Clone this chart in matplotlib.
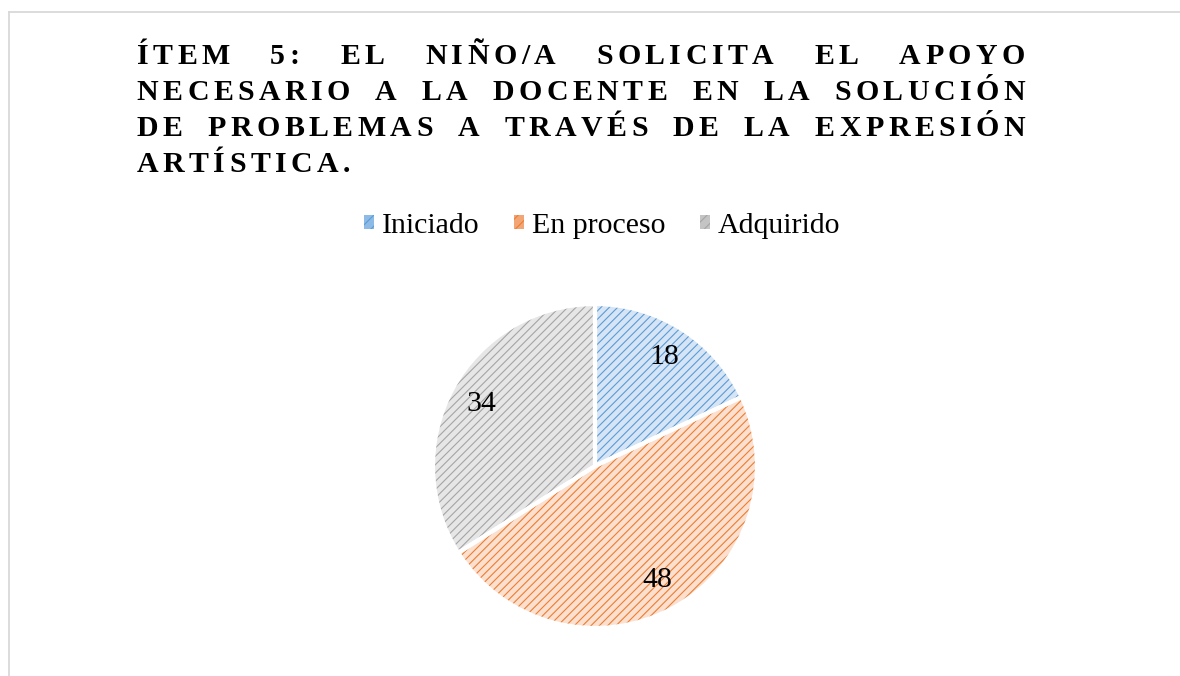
import matplotlib
matplotlib.use("Agg")
import matplotlib.pyplot as plt
from matplotlib.patches import Patch
from matplotlib.lines import Line2D
from matplotlib.font_manager import FontProperties, findfont
from matplotlib.ft2font import FT2Font

# ---- data ----
categories = ["Iniciado", "En proceso", "Adquirido"]
values = [18, 48, 34]
title_lines = [
    "ÍTEM 5: EL NIÑO/A SOLICITA EL APOYO",
    "NECESARIO A LA DOCENTE EN LA SOLUCIÓN",
    "DE PROBLEMAS A TRAVÉS DE LA EXPRESIÓN",
    "ARTÍSTICA.",
]

main_colors = ["#5B9BD5", "#ED7D31", "#A5A5A5"]
light_colors = ["#D5E5F5", "#FCE0CF", "#E6E6E6"]
legend_colors = ["#8DBBE6", "#F3A675", "#C4C4C4"]

W, H = 1180, 676
DPI = 100
plt.rcParams["hatch.linewidth"] = 0.8
fig = plt.figure(figsize=(W / DPI, H / DPI), dpi=DPI)
fig.patch.set_facecolor("white")

def fx(px):
    return px / W

def fy(py):
    return 1 - py / H

# ---- frame ----
fig.add_artist(Line2D([fx(9), fx(9)], [fy(12), 0], transform=fig.transFigure,
                      color="#D9D9D9", lw=1.3))
fig.add_artist(Line2D([fx(9), 1], [fy(12), fy(12)], transform=fig.transFigure,
                      color="#D9D9D9", lw=1.3))

# ---- title, letter spaced and justified ----
title_size = 21.5
fp_bold = FontProperties(family="Liberation Serif", weight="bold", size=title_size)
ft = FT2Font(findfont(fp_bold))
ft.set_size(title_size, DPI)

def adv(c):
    g = ft.load_char(ord(c))
    return g.linearHoriAdvance / 65536.0

spacing = 4.5
left_px, right_px = 136.5, 1025.0
baselines = [63.5, 100.0, 136.5, 172.5]
space_w = adv(" ") + spacing

for li, line in enumerate(title_lines):
    words = line.split(" ")
    widths = [sum(adv(c) for c in w) + spacing * (len(w) - 1) for w in words]
    if li < len(title_lines) - 1 and len(words) > 1:
        gap = (right_px - left_px - sum(widths)) / (len(words) - 1)
    else:
        gap = space_w + spacing
    x = left_px
    for w, ww in zip(words, widths):
        cx = x
        for c in w:
            fig.text(fx(cx), fy(baselines[li]), c, fontproperties=fp_bold,
                     ha="left", va="baseline", color="black")
            cx += adv(c) + spacing
        x += ww + gap

# ---- pie ----
cx_px, cy_px, r_px = 595, 466, 162
ax = fig.add_axes([fx(cx_px - r_px), fy(cy_px + r_px), 2 * r_px / W, 2 * r_px / H])
label_font = FontProperties(family="Liberation Serif", size=21.5)

wedges, texts = ax.pie(values, startangle=90, counterclock=False, radius=1,
                       colors=light_colors, labels=[str(v) for v in values],
                       labeldistance=0.8,
                       wedgeprops=dict(linewidth=0))
for w, mc in zip(wedges, main_colors):
    w.set_hatch("////")
    w.set_edgecolor(mc)
    w.set_linewidth(0)
for t in texts:
    t.set_fontproperties(label_font)
    t.set_color("black")
    t.set_ha("center")
    t.set_va("center")

edges, _ = ax.pie(values, startangle=90, counterclock=False, radius=1,
                  colors=["none"] * 3,
                  wedgeprops=dict(linewidth=3, edgecolor="white", facecolor="none"))
for e in edges:
    e.set_facecolor("none")
    e.set_clip_on(False)
ax.set_xlim(-1, 1)
ax.set_ylim(-1, 1)
ax.axis("off")

# ---- legend ----
handles = [Patch(facecolor=lc, edgecolor=mc, hatch="///", linewidth=0)
           for lc, mc in zip(legend_colors, main_colors)]
fig.legend(handles, categories, loc="center", bbox_to_anchor=(fx(602), fy(226)),
           ncol=3, frameon=False, prop=label_font,
           handlelength=0.35, handleheight=0.35, handletextpad=0.25,
           columnspacing=1.15, borderpad=0)

fig.savefig("out.png", dpi=DPI)
